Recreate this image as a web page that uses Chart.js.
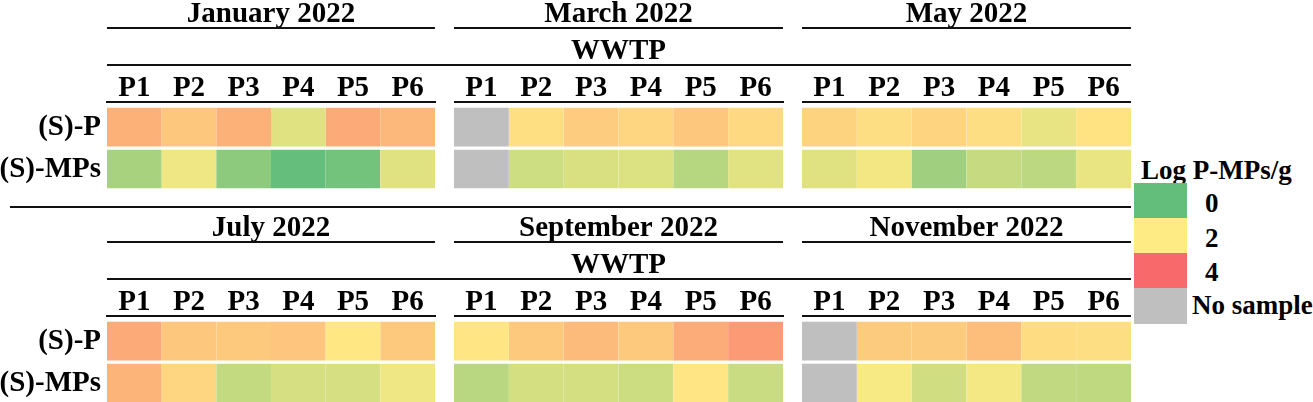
<!DOCTYPE html>
<html>
<head>
<meta charset="utf-8">
<script src="https://cdn.jsdelivr.net/npm/chart.js@4.4.1/dist/chart.umd.min.js"></script>
<style>
  html, body { margin: 0; padding: 0; background: #fff; overflow: hidden; }
  #wrap { position: relative; width: 1313px; height: 402px; font-family: 'Liberation Serif', 'Times New Roman', serif; font-weight: bold; color: #000; }
  .panel { position: absolute; height: 190px; }
  .sep { position: absolute; left: 10px; top: 206px; width: 1121px; height: 2px; background: #111; }
  .lg { position: absolute; font-size: 27px; line-height: 27px; white-space: nowrap; }
  .sw { position: absolute; left: 1134px; width: 53px; }
</style>
</head>
<body>
<div id="wrap">
  <div class="panel" style="left:0;top:0;width:454px"><canvas id="c0"></canvas></div>
  <div class="panel" style="left:454px;top:0;width:348px"><canvas id="c1"></canvas></div>
  <div class="panel" style="left:802px;top:0;width:329px"><canvas id="c2"></canvas></div>
  <div class="sep"></div>
  <div class="panel" style="left:0;top:214px;width:454px"><canvas id="c3"></canvas></div>
  <div class="panel" style="left:454px;top:214px;width:348px"><canvas id="c4"></canvas></div>
  <div class="panel" style="left:802px;top:214px;width:329px"><canvas id="c5"></canvas></div>
  <div id="legend"></div>
</div>
<script>
// sampling sites and rows
const sites = ['P1', 'P2', 'P3', 'P4', 'P5', 'P6'];
const rows = ['(S)-P', '(S)-MPs'];
const months = ['January 2022', 'March 2022', 'May 2022', 'July 2022', 'September 2022', 'November 2022'];

// Log P-MPs/g, null = no sample
const janP   = [2.9, 2.55, 2.9, 1.6, 3.0, 2.8];
const janMPs = [0.9, 1.8, 0.55, 0.02, 0.2, 1.6];
const marP   = [null, 2.17, 2.48, 2.34, 2.55, 2.28];
const marMPs = [null, 1.36, 1.5, 1.55, 1.08, 1.62];
const mayP   = [2.37, 2.2, 2.35, 2.2, 1.7, 2.13];
const mayMPs = [1.6, 1.84, 0.78, 1.26, 1.14, 1.73];
const julP   = [3.0, 2.55, 2.53, 2.58, 2.05, 2.53];
const julMPs = [2.85, 2.34, 1.23, 1.48, 1.47, 1.8];
const sepP   = [2.1, 2.53, 2.75, 2.53, 2.97, 3.25];
const sepMPs = [1.1, 1.45, 1.45, 1.33, 2.1, 1.32];
const novP   = [null, 2.5, 2.5, 2.7, 2.23, 2.2];
const novMPs = [null, 1.9, 1.4, 1.85, 1.2, 1.18];

// colour scale (legend ticks)
const scaleStops = [0, 2, 4];
const scaleColors = ['#63BE7B', '#FFEB84', '#F8696B'];
const noSampleColor = '#BFBFBF';

function hexRgb(h) {
  return [1, 3, 5].map(i => parseInt(h.slice(i, i + 2), 16));
}

function cellColor(v) {
  if (v === null) return noSampleColor;
  const t = Math.max(scaleStops[0], Math.min(scaleStops[2], v));
  const k = t <= scaleStops[1] ? 0 : 1;
  const f = (t - scaleStops[k]) / (scaleStops[k + 1] - scaleStops[k]);
  const a = hexRgb(scaleColors[k]), b = hexRgb(scaleColors[k + 1]);
  const c = a.map((x, i) => Math.round(x + (b[i] - x) * f));
  return `rgb(${c[0]},${c[1]},${c[2]})`;
}

const ink = '#000';
const font = { family: 'Liberation Serif', size: 29, weight: 'bold' };
Chart.defaults.font.family = 'Liberation Serif';

// rules under the month title and under the WWTP line
Chart.register({
  id: 'rules',
  afterDraw(chart, args, opts) {
    const { ctx, chartArea } = chart;
    const y1 = Math.round(chart.titleBlock.bottom - 9);
    const y2 = Math.round(chart.scales.x.top - 10);
    ctx.save();
    ctx.strokeStyle = '#111';
    ctx.lineWidth = 2;
    ctx.beginPath();
    ctx.moveTo(chartArea.left, y1);
    ctx.lineTo(chartArea.right, y1);
    ctx.moveTo(chartArea.left, y2);
    ctx.lineTo(chartArea.right + (opts.extend || 0), y2);
    ctx.stroke();
    ctx.restore();
  }
});

function panel(id, title, sub, pVals, mVals, showRows, padRight) {
  const cell = { borderColor: '#fff', borderWidth: { top: 2, bottom: 2, left: 0, right: 0 }, borderSkipped: false, categoryPercentage: 1, barPercentage: 1 };
  new Chart(document.getElementById(id), {
    type: 'bar',
    data: {
      labels: sites,
      datasets: [
        { label: rows[0], data: pVals.map(() => 1), backgroundColor: pVals.map(cellColor), ...cell },
        { label: rows[1], data: mVals.map(() => 1), backgroundColor: mVals.map(cellColor), ...cell }
      ]
    },
    options: {
      responsive: true,
      maintainAspectRatio: false,
      animation: false,
      events: [],
      layout: { padding: { right: padRight, bottom: 0 } },
      plugins: {
        legend: { display: false },
        tooltip: { enabled: false },
        title: { display: true, text: title, fullSize: false, color: ink, font: { ...font, lineHeight: 0.86 }, padding: { top: 1.6, bottom: 10.54 } },
        subtitle: { display: true, text: sub || ' ', fullSize: false, color: ink, font: { ...font, lineHeight: 0.86 }, padding: { top: 2.05, bottom: 11.13 } },
        rules: { extend: padRight }
      },
      scales: {
        x: {
          position: 'top',
          stacked: true,
          grid: { display: false, drawTicks: false },
          border: { display: true, color: '#111', width: 2 },
          ticks: { color: ink, font: { ...font, lineHeight: 0.9 }, padding: 0.35, maxRotation: 0, autoSkip: false }
        },
        y: {
          display: showRows,
          stacked: true,
          reverse: true,
          min: -0.1,
          max: 2,
          grid: { display: false, drawTicks: false },
          border: { display: false },
          afterBuildTicks: s => { s.ticks = [{ value: 0.5 }, { value: 1.5 }]; },
          afterFit: s => {
            if (!showRows) return;
            s.width = 107;
            s.paddingTop = 0;
            s.paddingBottom = 0;
          },
          ticks: { color: ink, font: { ...font, lineHeight: 0.1 }, padding: 6, callback: (v, i) => rows[i] }
        }
      }
    }
  });
}

panel('c0', months[0], '', janP, janMPs, true, 19);
panel('c1', months[1], 'WWTP', marP, marMPs, false, 19);
panel('c2', months[2], '', mayP, mayMPs, false, 0);
panel('c3', months[3], '', julP, julMPs, true, 19);
panel('c4', months[4], 'WWTP', sepP, sepMPs, false, 19);
panel('c5', months[5], '', novP, novMPs, false, 0);

// colour legend
const legend = document.getElementById('legend');
const legendItems = [
  { text: String(scaleStops[0]), color: cellColor(scaleStops[0]) },
  { text: String(scaleStops[1]), color: cellColor(scaleStops[1]) },
  { text: String(scaleStops[2]), color: cellColor(scaleStops[2]) },
  { text: 'No sample', color: noSampleColor }
];
const swTop = [183, 218, 253, 288], swH = [35, 35, 35, 36];
const labTop = [190, 225, 259, 292];
let html = '<div class="lg" style="left:1141px;top:157px">Log P-MPs/g</div>';
legendItems.forEach((it, i) => {
  html += `<div class="sw" style="top:${swTop[i]}px;height:${swH[i]}px;background:${it.color}"></div>`;
  html += `<div class="lg" style="left:${i === 3 ? 1192 : 1205}px;top:${labTop[i]}px">${it.text}</div>`;
});
legend.innerHTML = html;
</script>
</body>
</html>
